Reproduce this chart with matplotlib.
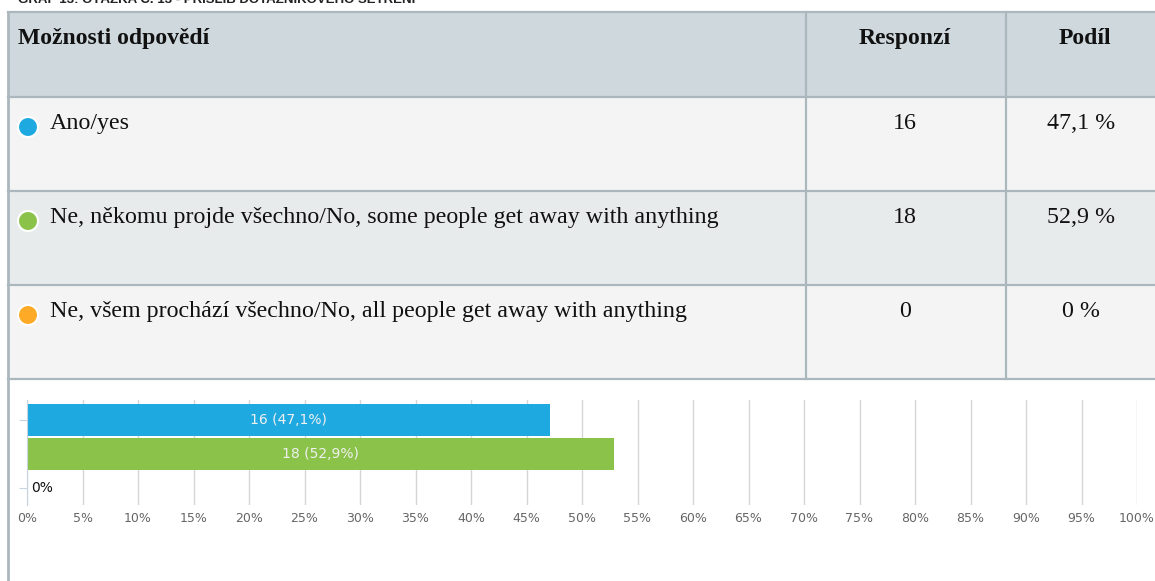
import matplotlib.pyplot as plt
from matplotlib.patches import Rectangle, Circle

# data
options = ["Ano/yes",
           "Ne, někomu projde všechno/No, some people get away with anything",
           "Ne, všem prochází všechno/No, all people get away with anything"]
counts = [16, 18, 0]
shares = [47.1, 52.9, 0.0]
colors = ["#1fa9e1", "#8bc34a", "#fdaa26"]
ticks = list(range(0, 101, 5))

W, H = 1155, 581
fig = plt.figure(figsize=(W / 100, H / 100), dpi=100)

# background axes in pixel coordinates for the table
bg = fig.add_axes([0, 0, 1, 1])
bg.set_xlim(0, W)
bg.set_ylim(H, 0)
bg.axis("off")

border = "#aab8be"
serif = "Liberation Serif"
fs = 17.3

# caption at the very top (cut off in the original)
bg.text(18, 0, "GRAF 13: OTÁZKA Č. 13 - PŘÍSLIB DOTAZNÍKOVÉHO ŠETŘENÍ",
        fontsize=9.5, fontweight="bold", family="Liberation Sans",
        va="center", ha="left", color="#222222", clip_on=True)

# header row
bg.add_patch(Rectangle((8, 12), W - 8, 85, facecolor="#cfd8dc", edgecolor="none"))
row_fill = ["#f4f4f4", "#e8ebec", "#f4f4f4"]
for i in range(3):
    bg.add_patch(Rectangle((8, 97 + i * 94), W - 8, 94, facecolor=row_fill[i], edgecolor="none"))

for y in [12, 97, 191, 285, 379]:
    bg.plot([8, W], [y, y], color=border, lw=1.6)
bg.plot([8, 8], [12, H], color=border, lw=2)
for x in [806, 1006]:
    bg.plot([x, x], [12, 379], color=border, lw=1.6)

bg.text(18, 44, "Možnosti odpovědí", fontsize=17, fontweight="bold", family=serif,
        va="baseline", ha="left", color="#111111")
bg.text(905, 44, "Responzí", fontsize=17, fontweight="bold", family=serif,
        va="baseline", ha="center", color="#111111")
bg.text(1085, 44, "Podíl", fontsize=17, fontweight="bold", family=serif,
        va="baseline", ha="center", color="#111111")

for i, (opt, c, s, col) in enumerate(zip(options, counts, shares, colors)):
    y = 129 + i * 94
    bg.add_patch(Circle((28, y - 2), 10, facecolor=col, edgecolor="white", lw=1.5))
    bg.text(50, y, opt, fontsize=fs, family=serif, va="baseline", ha="left", color="#111111")
    bg.text(905, y, str(c), fontsize=fs, family=serif, va="baseline", ha="center", color="#111111")
    share_txt = ("%.1f" % s).replace(".", ",") + " %" if s > 0 else "0 %"
    bg.text(1081, y, share_txt, fontsize=fs, family=serif, va="baseline", ha="center", color="#111111")

# bar chart
ax = fig.add_axes([27 / W, 76 / H, 1110 / W, 105 / H])
pos = list(range(len(shares)))
bars = ax.barh(pos, shares, height=0.94, color=colors, edgecolor="none", zorder=2)
ax.set_ylim(2.5, -0.59)
ax.set_xlim(0, 100)
ax.set_xticks(ticks)
ax.set_xticklabels([f"{t}%" for t in ticks], fontsize=9, color="#666666",
                   family="DejaVu Sans")
ax.tick_params(axis="x", length=0, pad=5)
ax.set_yticks([0, 2])
ax.set_yticklabels([])
ax.tick_params(axis="y", length=6, color="#c8d4e0", width=0.8)
ax.grid(axis="x", color="#d6d6d6", lw=1, zorder=0)
for sp in ["top", "right", "bottom"]:
    ax.spines[sp].set_visible(False)
ax.spines["left"].set_color("#c8d4e0")
ax.spines["left"].set_linewidth(0.8)
ax.patch.set_alpha(0)

for p, c, s in zip(pos, counts, shares):
    lbl = f"{c} ({s:.1f}%)".replace(".", ",")
    if s > 0:
        ax.text(s / 2, p, lbl, ha="center", va="center", fontsize=10,
                color="#f0f0f0", family="DejaVu Sans", zorder=3)
    else:
        ax.text(0.4, p, "0%", ha="left", va="center", fontsize=10,
                color="#111111", family="DejaVu Sans", zorder=3)

fig.savefig("out.png", dpi=100)
